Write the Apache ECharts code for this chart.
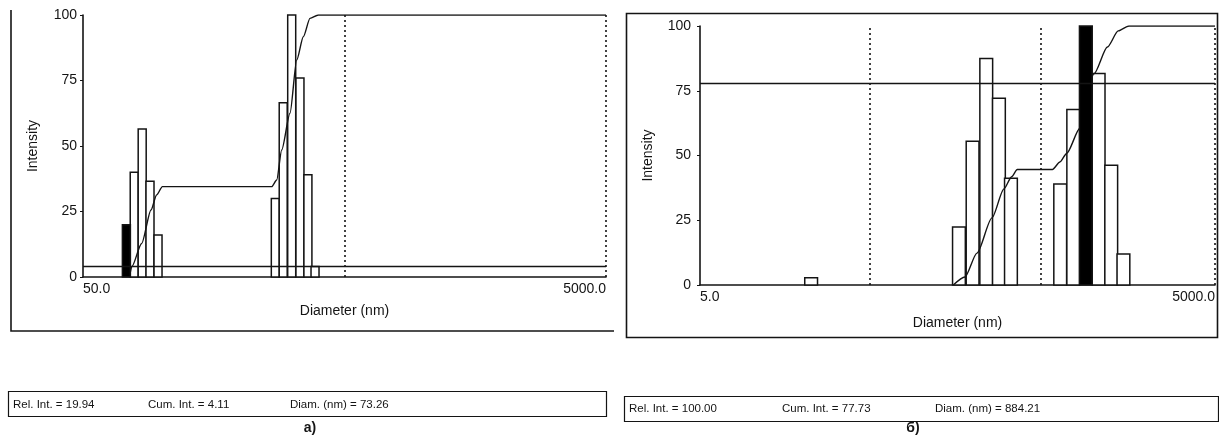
<!DOCTYPE html>
<html><head><meta charset="utf-8">
<script src="https://cdn.jsdelivr.net/npm/echarts@6/dist/echarts.min.js"></script>
<style>html,body{margin:0;padding:0;background:#fff}#c{width:1219px;height:438px}</style>
</head><body><div id="c"></div>
<script>
// ---------- Panel а) ----------
const aDiameters = [73.26, 78.5, 84.2, 90.2, 96.8, 271.9, 291.5, 314.1, 337.8, 362.3, 385.7];
const aIntensity = [19.94, 40, 56.5, 36.5, 16, 30, 66.5, 100, 76, 39, 4];
const aSelected = 73.26;
const aCumDiam = [75.3, 76.8, 83.8, 91.0, 95.6, 100.6, 106, 263.4, 275.2, 287.6, 309.4, 328.3, 347.9, 369, 397, 5000];
const aCumVal  = [0, 3.9, 12.8, 25.6, 31.3, 34.5, 34.5, 34.5, 37, 48.5, 62.5, 82.8, 91.7, 98.7, 100, 100];
const aLimits = [500, 5000];
const aCursor = 4.11;
const aRange = [50, 5000];
const aInfo = ['Rel. Int. = 19.94', 'Cum. Int. = 4.11', 'Diam. (nm) = 73.26'];

// ---------- Panel б) ----------
const bDiameters = [22.2, 161.2, 193.6, 232.5, 275.6, 323.8, 627, 746.9, 884.21, 1049.6, 1243, 1464];
const bIntensity = [2.8, 22.4, 55.5, 87.5, 72.1, 41.2, 39, 67.8, 100, 81.7, 46.2, 12];
const bSelected = 884.21;
const bCumDiam = [149.4, 174.7, 205.3, 251, 294.8, 326.9, 352.4, 564.9, 624.8, 683.4, 817, 985.5, 1181, 1365.6, 1575.7, 5000];
const bCumVal  = [0, 3.1, 12.3, 25.9, 37.1, 41.8, 44.6, 44.6, 47.5, 50.8, 60.5, 81.5, 91.9, 98.1, 100, 100];
const bLimits = [48.5, 485, 5000];
const bCursor = 77.73;
const bRange = [5, 5000];
const bInfo = ['Rel. Int. = 100.00', 'Cum. Int. = 77.73', 'Diam. (nm) = 884.21'];

const yTicks = [0, 25, 50, 75, 100];

const INK = '#141414';
const FONT = 'Arial, "Liberation Sans", sans-serif';

function barRenderer(ratio, fill) {
  const h = Math.sqrt(ratio);
  return function (params, api) {
    const d = api.value(0), v = api.value(1);
    const p0 = api.coord([d / h, v]);
    const p1 = api.coord([d * h, 0]);
    return {
      type: 'rect',
      shape: { x: p0[0], y: p0[1], width: p1[0] - p0[0], height: p1[1] - p0[1] },
      style: { fill: fill, stroke: INK, lineWidth: 1.5 }
    };
  };
}

function pairs(xs, ys) { return xs.map((x, i) => [x, ys[i]]); }

function xAxisFor(idx, range, nameGap) {
  return {
    gridIndex: idx, type: 'log', logBase: 10, min: range[0], max: range[1],
    name: 'Diameter (nm)', nameLocation: 'middle', nameGap: nameGap,
    nameTextStyle: { color: INK, fontFamily: FONT, fontSize: 14 },
    axisLine: { lineStyle: { color: INK, width: 1.6 } },
    axisTick: { show: false }, splitLine: { show: false }, minorTick: { show: false },
    axisLabel: {
      color: INK, fontFamily: FONT, fontSize: 14, margin: 5,
      showMinLabel: true, showMaxLabel: true, alignMinLabel: 'left', alignMaxLabel: 'right',
      formatter: function (val) {
        if (Math.abs(val - range[0]) < 1e-6 * range[0]) return range[0].toFixed(1);
        if (Math.abs(val - range[1]) < 1e-6 * range[1]) return range[1].toFixed(1);
        return '';
      }
    }
  };
}

function yAxisFor(idx, nameGap, margin) {
  return {
    gridIndex: idx, type: 'value', min: yTicks[0], max: yTicks[yTicks.length - 1], interval: yTicks[1] - yTicks[0],
    name: 'Intensity', nameLocation: 'middle', nameGap: nameGap,
    nameTextStyle: { color: INK, fontFamily: FONT, fontSize: 14 },
    axisLine: { show: true, lineStyle: { color: INK, width: 1.6 } },
    axisTick: { show: true, length: 3, lineStyle: { color: INK } },
    splitLine: { show: false },
    axisLabel: { color: INK, fontFamily: FONT, fontSize: 14, margin: margin }
  };
}

function seriesFor(idx, diam, inten, selected, ratio, cumD, cumV, limits, cursor) {
  const all = pairs(diam, inten);
  const white = all.filter(p => p[0] !== selected);
  const black = all.filter(p => p[0] === selected);
  return [
    { type: 'custom', xAxisIndex: idx, yAxisIndex: idx, renderItem: barRenderer(ratio, '#fff'),
      data: white, encode: { x: 0, y: 1 }, z: 2, silent: true },
    { type: 'line', xAxisIndex: idx, yAxisIndex: idx, data: pairs(cumD, cumV),
      smooth: 0.25, smoothMonotone: 'x', symbol: 'none', z: 3,
      lineStyle: { color: INK, width: 1.4 },
      markLine: {
        silent: true, symbol: 'none', label: { show: false }, animation: false,
        data: limits.map(l => ({ xAxis: l, lineStyle: { type: [2, 3], color: INK, width: 1.6 } }))
          .concat([{ yAxis: cursor, lineStyle: { type: 'solid', color: INK, width: 1.4 } }])
      } },
    { type: 'custom', xAxisIndex: idx, yAxisIndex: idx, renderItem: barRenderer(ratio, '#000'),
      data: black, encode: { x: 0, y: 1 }, z: 4, silent: true }
  ];
}

function infoText(x, y, s) {
  return { type: 'text', x: x, y: y, style: { text: s, fill: INK, font: '11.5px ' + FONT, textVerticalAlign: 'middle' } };
}

const chart = echarts.init(document.getElementById('c'));
chart.setOption({
  animation: false,
  backgroundColor: '#fff',
  grid: [
    { left: 83, top: 15, width: 523, height: 262 },
    { left: 700, top: 26, width: 515, height: 259 }
  ],
  xAxis: [xAxisFor(0, aRange, 27), xAxisFor(1, bRange, 31)],
  yAxis: [yAxisFor(0, 43, 6), yAxisFor(1, 45, 9)],
  series: seriesFor(0, aDiameters, aIntensity, aSelected, 1.073, aCumDiam, aCumVal, aLimits, aCursor)
    .concat(seriesFor(1, bDiameters, bIntensity, bSelected, 1.187, bCumDiam, bCumVal, bLimits, bCursor)),
  graphic: [
    { type: 'polyline', shape: { points: [[11, 10], [11, 331], [614, 331]] }, style: { stroke: INK, lineWidth: 1.6, fill: null } },
    { type: 'rect', shape: { x: 626.5, y: 13.5, width: 591, height: 324 }, style: { stroke: INK, lineWidth: 1.6, fill: null } },
    { type: 'rect', shape: { x: 8.5, y: 391.5, width: 598, height: 25 }, style: { stroke: INK, lineWidth: 1.2, fill: null } },
    { type: 'rect', shape: { x: 624.5, y: 396.5, width: 594, height: 25 }, style: { stroke: INK, lineWidth: 1.2, fill: null } },
    infoText(13, 405, aInfo[0]), infoText(148, 405, aInfo[1]), infoText(290, 405, aInfo[2]),
    infoText(629, 409, bInfo[0]), infoText(782, 409, bInfo[1]), infoText(935, 409, bInfo[2]),
    { type: 'text', x: 310, y: 428, style: { text: 'а)', fill: INK, font: 'bold 14px ' + FONT, textAlign: 'center', textVerticalAlign: 'middle' } },
    { type: 'text', x: 913, y: 428, style: { text: 'б)', fill: INK, font: 'bold 14px ' + FONT, textAlign: 'center', textVerticalAlign: 'middle' } }
  ]
});
</script>
</body></html>
